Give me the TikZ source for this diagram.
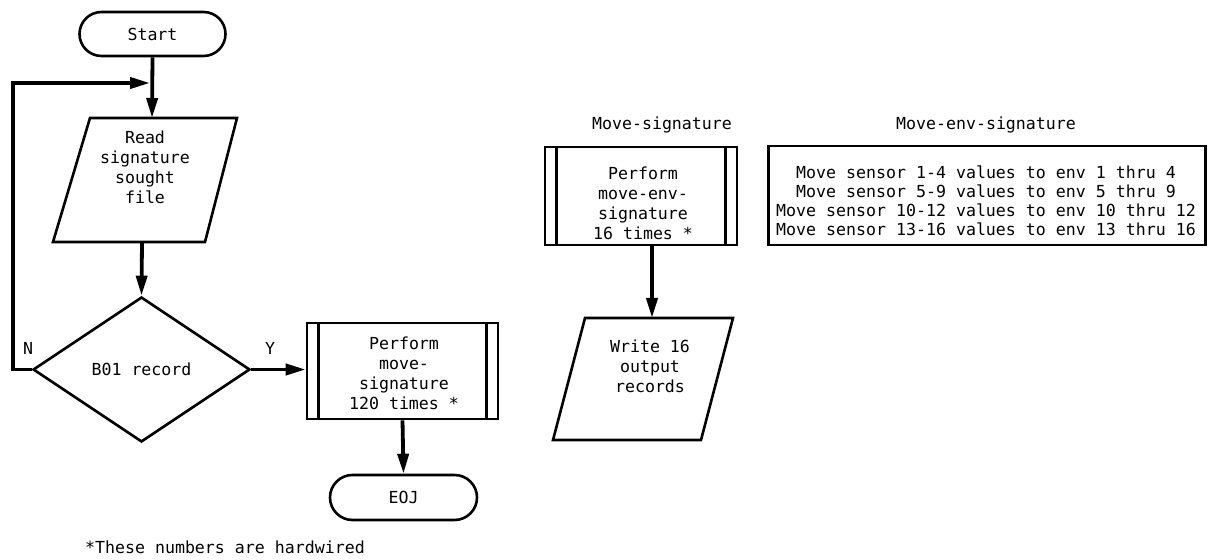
\documentclass[tikz,border=0pt]{standalone}
\usepackage{fontspec}
\newfontfamily\flowfont{DejaVu Sans Mono}
\usetikzlibrary{arrows.meta, shapes.geometric, shapes.misc}

\begin{document}
\begin{tikzpicture}[x=0.5pt, y=-0.5pt,
        every node/.style={font=\flowfont\fontsize{8.3}{10}\selectfont},
        box/.style={draw, line width=1.3pt},
        term/.style={box, rounded rectangle, minimum width=73pt, minimum height=22pt, inner sep=0pt},
        predef/.style={box, rectangle, inner sep=0pt},
        flow/.style={line width=1.9pt, -{Triangle[length=10pt,width=5.5pt]}}]
            \useasboundingbox (0,0) rectangle (1208,560);
            % main program
            \node[term] (start) at (152.5,34) {Start};
            \coordinate (rd1) at (90,118);
            \coordinate (rd2) at (237,118);
            \coordinate (rd3) at (205,242);
            \coordinate (rd4) at (53,242);
            \draw[box] (rd1) -- (rd2) -- (rd3) -- (rd4) -- cycle;
            \node[align=center] (read) at (145,167) {Read\\signature\\sought\\file};
            \coordinate (readtop) at (152,118);
            \coordinate (readbot) at (142,242);
            \node[box, diamond, minimum width=108.5pt, minimum height=72.5pt, inner sep=0pt] (dec) at (141.5,369.5) {B01 record};
            \node (n) at (28,348) {N};
            \node (y) at (270,348) {Y};
            \node[predef, minimum width=95.5pt, minimum height=48pt] (perf) at (402.5,371) {};
            \node[align=center] (perftxt) at (404,373.5) {Perform\\move-\\signature\\120 times *};
            \node[term, minimum width=73.5pt, minimum height=22.5pt] (eoj) at (403.5,497.5) {EOJ};
            \node[anchor=west] (note) at (78,547) {*These numbers are hardwired};
            % loop back
            \coordinate (nleft) at (13,369.5);
            \coordinate (loop) at (150,83);
            \draw[flow] (start.south) -- (readtop);
            \draw[flow] (readbot) -- (dec.north);
            \draw[flow] (dec.west) -- (nleft) |- (loop);
            \draw[flow] (dec.east) -- (perf.west |- dec.east);
            \draw[flow] (perf.south) -- (eoj.north);
            % move-signature
            \node (sig) at (662,125) {Move-signature};
            \node[predef, minimum width=96pt, minimum height=49pt] (perfenv) at (641,196) {};
            \node[align=center] (perfenvtxt) at (643,203.5) {Perform\\move-env-\\signature\\16 times *};
            \coordinate (wr1) at (585,318);
            \coordinate (wr2) at (733,318);
            \coordinate (wr3) at (701,440);
            \coordinate (wr4) at (553,440);
            \draw[box] (wr1) -- (wr2) -- (wr3) -- (wr4) -- cycle;
            \node[align=center] (write) at (650,366) {Write 16\\output\\records};
            \coordinate (wrtop) at (652,318);
            \draw[flow] (perfenv.south -| wrtop) -- (wrtop);
            \foreach \p in {perf, perfenv} {
                \draw[box] ([xshift=6.5pt]\p.north west) -- ([xshift=6.5pt]\p.south west);
                \draw[box] ([xshift=-6.5pt]\p.north east) -- ([xshift=-6.5pt]\p.south east);
            }
            % move-env-signature
            \node (envsig) at (986,125) {Move-env-signature};
            \node[predef, minimum width=218.5pt, minimum height=49.5pt] (env) at (987,195.5) {};
            \node[align=center, font=\flowfont\fontsize{8.3}{9.5}\selectfont] (envtxt) at (986,200.5)
                {Move sensor 1-4 values to env 1 thru 4\\
                 Move sensor 5-9 values to env 5 thru 9\\
                 Move sensor 10-12 values to env 10 thru 12\\
                 Move sensor 13-16 values to env 13 thru 16};
        \end{tikzpicture}
\end{document}
